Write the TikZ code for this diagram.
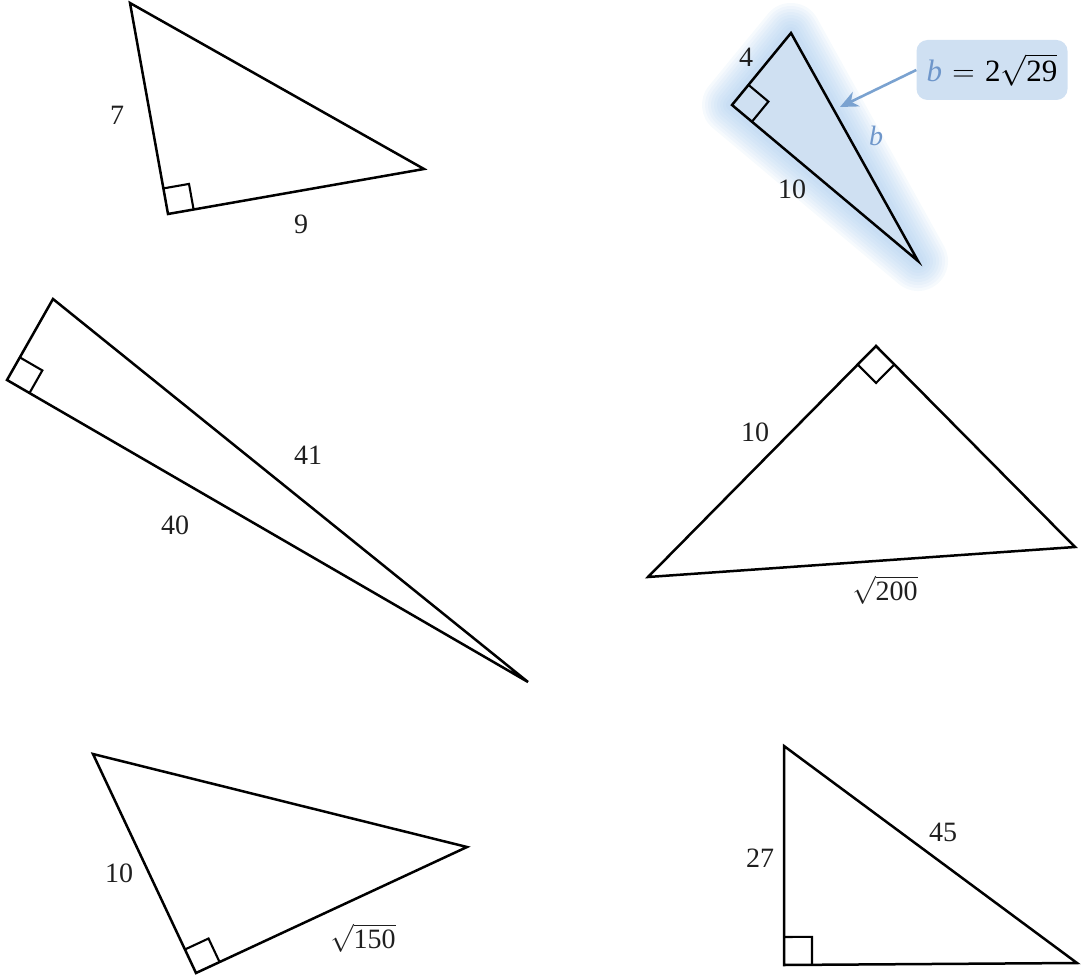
\RequirePackage{fix-cm}
\documentclass[tikz,border=0pt]{standalone}
\usepackage{fontspec}
\setmainfont{Liberation Serif}
\usetikzlibrary{calc,arrows.meta}
\definecolor{bfill}{RGB}{207,224,242}
\definecolor{bglow}{RGB}{160,198,236}
\definecolor{barrow}{RGB}{122,162,208}
\definecolor{btext}{RGB}{110,150,202}
\tikzset{
  tri/.style={draw=black, line width=2.5pt, line join=miter},
  sq/.style={draw=black, line width=2.1pt},
  lbl/.style={font=\fontsize{28}{31}\selectfont, inner sep=0pt, text=black!88},
  callout/.style={fill=bfill, rounded corners=11pt, minimum width=151pt, minimum height=60pt, inner sep=0pt, font=\fontsize{31}{34}\selectfont},
  glowline/.style={draw=bglow, line join=round, draw opacity=0.09, fill=none}
}
\newcommand{\rtmark}[4]{% vertex, leg end 1, leg end 2, size
  \draw[sq] ($(#1)!#4!(#2)$) -- ($($(#1)!#4!(#2)$)+($(#1)!#4!(#3)$)-(#1)$) -- ($(#1)!#4!(#3)$);
}
\newcommand{\rt}[1]{$\sqrt{\mbox{#1}}$}
\begin{document}
\begin{tikzpicture}[x=1pt,y=-1pt]
\useasboundingbox (0,0) rectangle (1081,976);
% ---------- triangle 1
\coordinate (A1) at (130,3);
\coordinate (B1) at (168,214);
\coordinate (C1) at (424,169);
\draw[tri] (A1) -- (B1) -- (C1) -- cycle;
\rtmark{B1}{A1}{C1}{26pt}
\node[lbl] (l7) at (117,115) {7};
\node[lbl] (l9) at (301,224) {9};
% ---------- triangle 2 (highlighted)
\coordinate (A2) at (791,33);
\coordinate (B2) at (732,105);
\coordinate (C2) at (918,261);
\foreach \w in {60,54,48,42,36,30,24,18,12} {
  \draw[glowline, line width=\w pt] (A2) -- (B2) -- (C2) -- cycle;
}
\fill[bfill] (A2) -- (B2) -- (C2) -- cycle;
\draw[tri] (A2) -- (B2) -- (C2) -- cycle;
\rtmark{B2}{A2}{C2}{26pt}
\node[lbl] (l4) at (746,57) {4};
\node[lbl] (l10a) at (792,189) {10};
\node[lbl, text=btext] (lb) at (876,136) {\textit{b}};
\node[callout] (co) at (992,70) {\textcolor{btext}{\textit{b}}\,\,$=$\,\,2\rt{29}};
\coordinate (tip) at (840,107);
\draw[barrow, line width=2.6pt, -{Stealth[length=18pt,width=16pt]}] (co.west) -- (tip);
% ---------- triangle 3
\coordinate (A3) at (53,299);
\coordinate (B3) at (7,380);
\coordinate (C3) at (528,682);
\draw[tri] (A3) -- (B3) -- (C3) -- cycle;
\rtmark{B3}{A3}{C3}{26pt}
\node[lbl] (l41) at (308,455) {41};
\node[lbl] (l40) at (175,525) {40};
% ---------- triangle 4
\coordinate (A4) at (876,346);
\coordinate (B4) at (648,577);
\coordinate (C4) at (1075,547);
\draw[tri] (A4) -- (B4) -- (C4) -- cycle;
\rtmark{A4}{B4}{C4}{26pt}
\node[lbl] (l10b) at (755,432) {10};
\node[lbl] (l200) at (885,590) {\rt{200}};
% ---------- triangle 5
\coordinate (A5) at (93,754);
\coordinate (B5) at (196,973);
\coordinate (C5) at (467,847);
\draw[tri] (A5) -- (B5) -- (C5) -- cycle;
\rtmark{B5}{A5}{C5}{26pt}
\node[lbl] (l10c) at (119,873) {10};
\node[lbl] (l150) at (363,938) {\rt{150}};
% ---------- triangle 6
\coordinate (A6) at (784,746);
\coordinate (B6) at (784,965);
\coordinate (C6) at (1077,963);
\draw[tri] (A6) -- (B6) -- (C6) -- cycle;
\rtmark{B6}{A6}{C6}{28pt}
\node[lbl] (l27) at (760,858) {27};
\node[lbl] (l45) at (943,832) {45};
\end{tikzpicture}
\end{document}
